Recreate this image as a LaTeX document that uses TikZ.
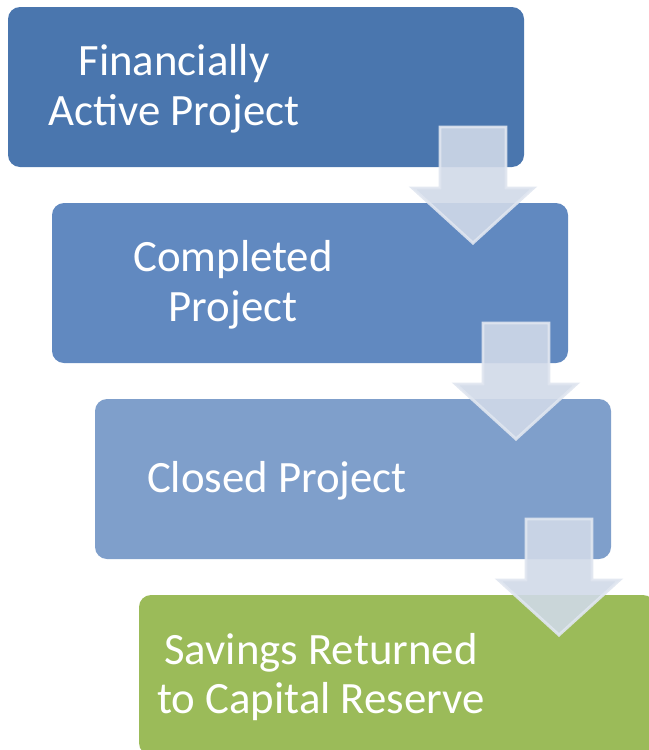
\documentclass[tikz,border=0pt]{standalone}
\usepackage{fontspec}
\setmainfont{Carlito}
\definecolor{cA}{RGB}{74,118,174}
\definecolor{cB}{RGB}{97,137,192}
\definecolor{cC}{RGB}{127,159,203}
\definecolor{cD}{RGB}{155,187,89}
\definecolor{arrfill}{RGB}{208,217,232}
\definecolor{arrline}{RGB}{224,230,240}
\tikzset{
  stagebox/.style={rectangle, rounded corners=9pt, minimum width=387pt, minimum height=120pt, inner sep=0pt, draw=none},
  stagetext/.style={text=white, align=center, font=\fontsize{33.6pt}{37.4pt}\selectfont, inner sep=0pt},
  arr/.style={fill=arrfill, fill opacity=0.9, draw=arrline, draw opacity=0.9, line width=2.2pt, line join=miter},
  downarr/.pic={\path[arr] (-33,0) -- (33,0) -- (33,61) -- (60.5,61) -- (0,116) -- (-60.5,61) -- (-33,61) -- cycle;}
}
\begin{document}
\begin{tikzpicture}[x=0.75pt,y=-0.75pt]
\useasboundingbox (0,0) rectangle (649,750);
\clip (0,0) rectangle (649,750);
\node[stagebox, fill=cA] (b1) at (266,87) {};
\node[stagebox, fill=cB] (b2) at (310,283) {};
\node[stagebox, fill=cC] (b3) at (353,479) {};
\node[stagebox, fill=cD] (b4) at (397,675) {};
\node[stagetext] (t1) at (174,89) {Financially\\Active Project};
\node[stagetext] (t2) at (233,285) {Completed\\Project};
\node[stagetext] (t3) at (277,481) {Closed Project};
\node[stagetext] (t4) at (321,677) {Savings Returned\\to Capital Reserve};
\coordinate (a1) at (473,127);
\coordinate (a2) at (516,323);
\coordinate (a3) at (559,519);
\pic at (a1) {downarr};
\pic at (a2) {downarr};
\pic at (a3) {downarr};
\end{tikzpicture}
\end{document}
